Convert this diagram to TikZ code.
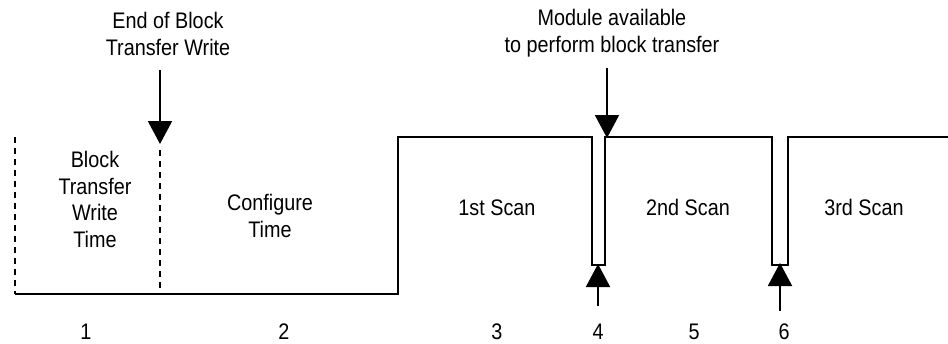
\documentclass[tikz,border=0pt]{standalone}
\usepackage{fontspec}
\setmainfont[FakeStretch=0.88]{Liberation Sans}
\usetikzlibrary{arrows.meta}
\tikzset{
  wave/.style={line width=2pt, line join=miter, line cap=butt},
  dashline/.style={line width=2pt, dash pattern=on 6pt off 5pt},
  marker/.style={line width=2pt, -{Triangle[width=24pt,length=23pt]}},
  lbl/.style={inner sep=0pt, align=center, font=\fontsize{22.5}{26.5}\selectfont, text=black},
}
\begin{document}
\begin{tikzpicture}[x=1pt,y=-1pt]
\useasboundingbox (0,0) rectangle (948,343);
% waveform
\draw[wave] (15,294) -- (398,294) -- (398,137) -- (592,137) -- (592,265) -- (605,265) -- (605,137)
  -- (772,137) -- (772,265) -- (788,265) -- (788,137) -- (948,137);
% dashed boundaries
\coordinate (d1t) at (15,137);
\coordinate (d1b) at (15,294);
\coordinate (d2t) at (160,150);
\coordinate (d2b) at (160,294);
\draw[dashline] (d1t) -- (d1b);
\draw[dashline] (d2t) -- (d2b);
% arrows
\coordinate (a1s) at (160,70);  \coordinate (a1e) at (160,144);
\coordinate (a2s) at (607,68);  \coordinate (a2e) at (607,138);
\coordinate (a4s) at (598,306); \coordinate (a4e) at (598,264);
\coordinate (a6s) at (780,311); \coordinate (a6e) at (780,263);
\draw[marker] (a1s) -- (a1e);
\draw[marker] (a2s) -- (a2e);
\draw[marker] (a4s) -- (a4e);
\draw[marker] (a6s) -- (a6e);
% labels
\node[lbl, anchor=base] (endl) at (168,55) {End of Block\\Transfer Write};
\node[lbl, anchor=base] (modl) at (612,52) {Module available\\to perform block transfer};
\node[lbl, anchor=base] (btw) at (95,247) {Block\\Transfer\\Write\\Time};
\node[lbl, anchor=base] (cfg) at (270,237) {Configure\\Time};
\node[lbl, anchor=base] (s1) at (497,215) {1st Scan};
\node[lbl, anchor=base] (s2) at (688,215) {2nd Scan};
\node[lbl, anchor=base] (s3) at (864,215) {3rd Scan};
\node[lbl, anchor=base] (n1) at (86,339) {1};
\node[lbl, anchor=base] (n2) at (284,339) {2};
\node[lbl, anchor=base] (n3) at (497,339) {3};
\node[lbl, anchor=base] (n4) at (598,339) {4};
\node[lbl, anchor=base] (n5) at (694,339) {5};
\node[lbl, anchor=base] (n6) at (784,339) {6};
\end{tikzpicture}
\end{document}
